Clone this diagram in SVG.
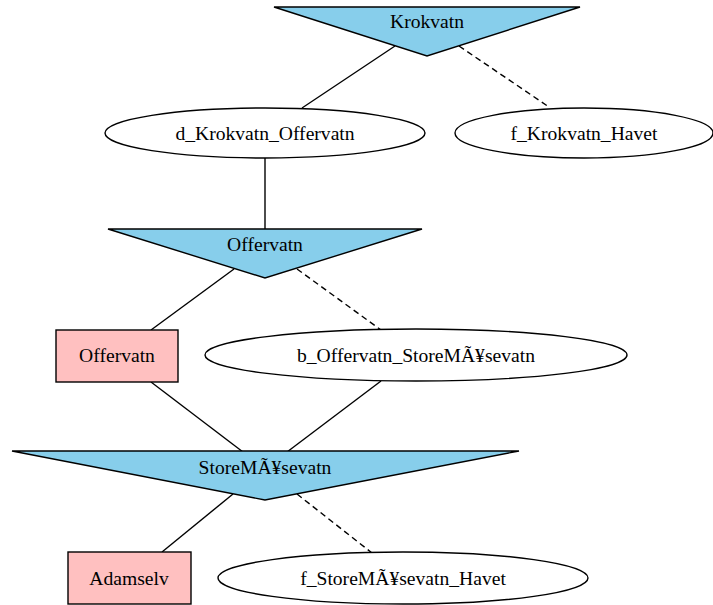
<svg xmlns="http://www.w3.org/2000/svg" width="713" height="605" viewBox="0 0 713 605">
<style>
text{font-family:"Liberation Serif","Times New Roman",serif;font-size:19.6px;fill:#000;text-anchor:middle;dominant-baseline:central}
.tri{fill:#87ceeb;stroke:#000;stroke-width:1.4}
.ell{fill:#fff;stroke:#000;stroke-width:1.4}
.box{fill:#ffc0c0;stroke:#000;stroke-width:1.4}
.e{stroke:#000;stroke-width:1.4;fill:none}
.d{stroke-dasharray:6,4}
</style>
<rect width="713" height="605" fill="#fff"/>
<g id="edges">
<line class="e" x1="395" y1="46" x2="302" y2="108"/>
<line class="e d" x1="459" y1="46" x2="549" y2="107"/>
<line class="e" x1="265" y1="158" x2="265" y2="229"/>
<line class="e" x1="234" y1="269" x2="151" y2="330"/>
<line class="e d" x1="297" y1="269" x2="381" y2="330"/>
<line class="e" x1="151" y1="382" x2="243" y2="452"/>
<line class="e" x1="381" y1="381" x2="287" y2="452"/>
<line class="e" x1="233" y1="494" x2="162" y2="552"/>
<line class="e d" x1="297" y1="494" x2="372" y2="553"/>
</g>
<g id="Krokvatn_tri"><polygon class="tri" points="274,7 580,7 427,56"/><text x="427" y="21">Krokvatn</text></g>
<g id="d_Krokvatn_Offervatn"><ellipse class="ell" cx="265" cy="133" rx="160" ry="25"/><text x="265" y="133">d_Krokvatn_Offervatn</text></g>
<g id="f_Krokvatn_Havet"><ellipse class="ell" cx="584" cy="133" rx="129" ry="25"/><text x="584" y="133">f_Krokvatn_Havet</text></g>
<g id="Offervatn_tri"><polygon class="tri" points="108,229 422,229 265,278"/><text x="265" y="244">Offervatn</text></g>
<g id="Offervatn_box"><rect class="box" x="56" y="330" width="122" height="52"/><text x="117" y="355">Offervatn</text></g>
<g id="b_Offervatn_StoreMasevatn"><ellipse class="ell" cx="416" cy="355" rx="211" ry="26"/><text x="416" y="355">b_Offervatn_StoreMÃ¥sevatn</text></g>
<g id="StoreMasevatn_tri"><polygon class="tri" points="12,451 519,451 265,500"/><text x="265" y="467">StoreMÃ¥sevatn</text></g>
<g id="Adamselv"><rect class="box" x="68" y="552" width="123" height="52"/><text x="129" y="578">Adamselv</text></g>
<g id="f_StoreMasevatn_Havet"><ellipse class="ell" cx="403" cy="578" rx="185" ry="26"/><text x="403" y="578">f_StoreMÃ¥sevatn_Havet</text></g>
</svg>
